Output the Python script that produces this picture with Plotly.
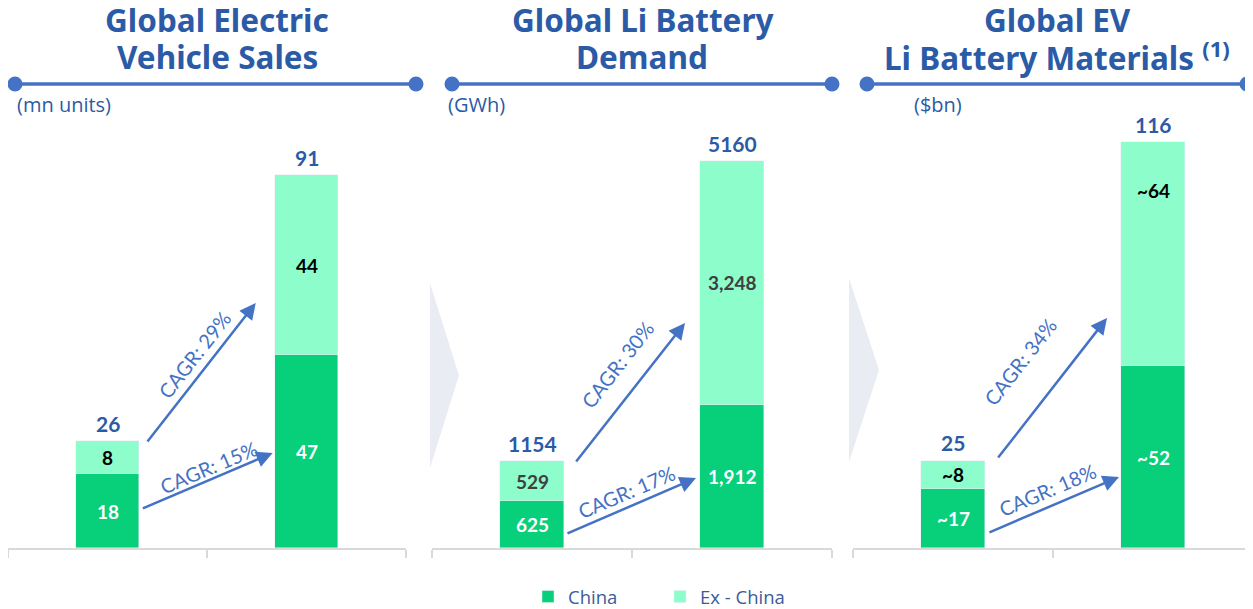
import plotly.graph_objects as go

# the page draws the figure 8px in from the window's top-left corner
OX, OY = 8, 8
W, H = 1253 - OX, 609

# ---------------- data ----------------
periods = ["Start", "End"]
titles_l1 = ["Global Electric", "Global Li Battery", "Global EV"]
titles_l2 = ["Vehicle Sales", "Demand", "Li Battery Materials <sup>(1)</sup>"]
units = ["(mn units)", "(GWh)", "($bn)"]

ev_china = [18, 47]
ev_ex = [8, 44]
ev_total = [26, 91]
ev_china_lbl = ["18", "47"]
ev_ex_lbl = ["8", "44"]

bat_china = [625, 1912]
bat_ex = [529, 3248]
bat_total = [1154, 5160]
bat_china_lbl = ["625", "1,912"]
bat_ex_lbl = ["529", "3,248"]

mat_china = [17, 52]
mat_ex = [8, 64]
mat_total = [25, 116]
mat_china_lbl = ["~17", "~52"]
mat_ex_lbl = ["~8", "~64"]

cagr_china = ["CAGR: 15%", "CAGR: 17%", "CAGR: 18%"]
cagr_ex = ["CAGR: 29%", "CAGR: 30%", "CAGR: 34%"]

panels = [
    dict(china=ev_china, ex=ev_ex, total=ev_total, cl=ev_china_lbl, el=ev_ex_lbl, excol="#000000"),
    dict(china=bat_china, ex=bat_ex, total=bat_total, cl=bat_china_lbl, el=bat_ex_lbl, excol="#404040"),
    dict(china=mat_china, ex=mat_ex, total=mat_total, cl=mat_china_lbl, el=mat_ex_lbl, excol="#000000"),
]

# ---------------- style / layout ----------------
C_CHINA = "#07CF7A"
C_EX = "#8DFDCC"
BLUE = "#2B5BA6"
ARROW = "#4472C4"

def px(x):
    return min(1.0, max(0.0, (x - OX) / W))

def py(y):
    return 1 - (y - OY) / H

x_domains = [(6, 406), (432, 832), (853, 1253)]
plot_top, base = 130, 548
y_dom = [py(base), py(plot_top)]
tall_px = [373, 387, 406]

arrows_lo = [((0.17, 9.5), (0.83, 23.2)), ((0.17, 187), (0.82, 933)), ((0.175, 4.3), (0.83, 20.3))]
arrows_hi = [((0.195, 25.6), (0.745, 59.8)), ((0.215, 1133), (0.765, 3000)), ((0.22, 25.4), (0.77, 65.7))]
txt_lo = [(0.51, 19.8), (0.47, 747), (0.47, 16.6)]
txt_hi = [(0.435, 47.1), (0.425, 2440), (0.335, 53.1)]
ex_label_shift = [[0, 0], [0, 0], [0, 64]]
title_cx = [217, 642, 1057]
line_x = [(15, 416), (452, 832), (867, 1247)]
unit_x = [15, 446, 912]

fig = go.Figure()
annotations = []
shapes = []

for i, p in enumerate(panels):
    xa = "x" if i == 0 else f"x{i+1}"
    ya = "y" if i == 0 else f"y{i+1}"
    fig.add_trace(go.Bar(x=periods, y=p["china"], name="China", marker_color=C_CHINA,
                         width=0.32, xaxis=xa, yaxis=ya, showlegend=(i == 0),
                         legendgroup="china", hoverinfo="skip"))
    fig.add_trace(go.Bar(x=periods, y=p["ex"], name="Ex - China", marker_color=C_EX,
                         width=0.32, xaxis=xa, yaxis=ya, showlegend=(i == 0),
                         legendgroup="ex", hoverinfo="skip"))
    ymax = max(p["total"]) * (base - plot_top) / tall_px[i]
    lay_x = dict(domain=[px(x_domains[i][0]), px(x_domains[i][1])], anchor=ya,
                 range=[-0.5, 1.5], showticklabels=False, showgrid=False,
                 showline=True, linecolor="#D9D9D9", linewidth=2,
                 ticks="outside", tickson="boundaries", ticklen=8,
                 tickcolor="#D9D9D9", tickwidth=2, fixedrange=True)
    lay_y = dict(domain=y_dom, anchor=xa, range=[0, ymax], visible=False, fixedrange=True)
    fig.update_layout(**{("xaxis" if i == 0 else f"xaxis{i+1}"): lay_x,
                         ("yaxis" if i == 0 else f"yaxis{i+1}"): lay_y})

    for j in range(2):
        annotations.append(dict(x=j, y=p["china"][j] / 2, xref=xa, yref=ya, text=f"<b>{p['cl'][j]}</b>",
                                showarrow=False, font=dict(family="Lato", size=19, color="white")))
        ex_y = p["china"][j] + p["ex"][j] / 2
        annotations.append(dict(x=j, y=ex_y, xref=xa, yref=ya, text=f"<b>{p['el'][j]}</b>",
                                showarrow=False, yshift=ex_label_shift[i][j],
                                font=dict(family="Lato", size=19, color=p["excol"])))
        annotations.append(dict(x=j, y=p["total"][j], xref=xa, yref=ya, text=f"<b>{p['total'][j]}</b>",
                                showarrow=False, yshift=18,
                                font=dict(family="Lato", size=21, color=BLUE)))

    for (tail, tip) in (arrows_lo[i], arrows_hi[i]):
        annotations.append(dict(x=tip[0], y=tip[1], ax=tail[0], ay=tail[1], xref=xa, yref=ya,
                                axref=xa, ayref=ya, text="", showarrow=True, arrowhead=2,
                                arrowsize=1.3, arrowwidth=2.5, arrowcolor=ARROW, standoff=0))
    annotations.append(dict(x=txt_lo[i][0], y=txt_lo[i][1], xref=xa, yref=ya, text=cagr_china[i],
                            showarrow=False, textangle=-23,
                            font=dict(family="Lato", size=20, color=ARROW)))
    annotations.append(dict(x=txt_hi[i][0], y=txt_hi[i][1], xref=xa, yref=ya, text=cagr_ex[i],
                            showarrow=False, textangle=-52,
                            font=dict(family="Lato", size=20, color=ARROW)))

    for txt, yc in ((titles_l1[i], 20), (titles_l2[i], 56)):
        annotations.append(dict(x=px(title_cx[i]), y=py(yc), xref="paper", yref="paper",
                                text=f"<b>{txt}</b>", showarrow=False, xanchor="center",
                                yanchor="middle", font=dict(family="Noto Sans", size=31.5, color=BLUE)))
    annotations.append(dict(x=px(unit_x[i]), y=py(104), xref="paper", yref="paper",
                            text=units[i], showarrow=False, xanchor="left", yanchor="middle",
                            font=dict(family="Open Sans", size=20, color=BLUE)))
    x0, x1 = line_x[i]
    shapes.append(dict(type="line", xref="paper", yref="paper", x0=px(x0), x1=px(x1),
                       y0=py(84), y1=py(84), line=dict(color=ARROW, width=3.5)))
    for xc in (x0, x1):
        shapes.append(dict(type="circle", xref="paper", yref="paper", xsizemode="pixel",
                           ysizemode="pixel", xanchor=px(xc), yanchor=py(84),
                           x0=-7.5, x1=7.5, y0=-7.5, y1=7.5,
                           fillcolor=ARROW, line=dict(color=ARROW, width=0)))

for (xl, xt, yt, yb) in [(430, 459, 283, 468), (849, 879, 278, 462)]:
    ym = (yt + yb) / 2
    shapes.append(dict(type="path", xref="paper", yref="paper", layer="below",
                       path=f"M {px(xl)} {py(yt)} L {px(xt)} {py(ym)} L {px(xl)} {py(yb)} Z",
                       fillcolor="#E9EDF3", line=dict(width=0)))

fig.update_layout(
    width=W, height=H, barmode="stack", bargap=0,
    margin=dict(l=0, r=0, t=0, b=0),
    paper_bgcolor="white", plot_bgcolor="rgba(0,0,0,0)",
    annotations=annotations, shapes=shapes,
    legend=dict(orientation="h", x=px(528), xanchor="left", y=py(597), yanchor="middle",
                font=dict(family="Open Sans", size=18.5, color="#3B5B9A"),
                entrywidth=87, entrywidthmode="pixels", itemwidth=30,
                bgcolor="rgba(0,0,0,0)"),
)

fig.write_html("out.html")
